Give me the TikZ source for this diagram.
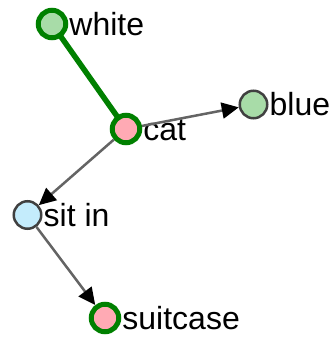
\documentclass[tikz,border=0pt]{standalone}
\usepackage{fontspec}
\setmainfont{Liberation Sans}
\usetikzlibrary{arrows.meta}

\definecolor{hlgreen}{RGB}{0,128,0}
\definecolor{leafgreen}{RGB}{168,220,168}
\definecolor{rosepink}{RGB}{255,170,180}
\definecolor{skyblue}{RGB}{196,236,252}
\definecolor{ringgray}{RGB}{64,64,64}
\definecolor{edgegray}{RGB}{100,100,100}

\tikzset{
  word/.style = {circle, draw, minimum size = 27.5pt, inner sep = 0pt},
  plain/.style = {word, draw = ringgray, line width = 2.5pt},
  hot/.style = {word, draw = hlgreen, line width = 5pt},
  every label/.style = {font = \fontsize{32}{38}\selectfont, inner sep = 0pt,
    text height = 22pt, text depth = 0pt, label distance = 1pt},
  rel/.style = {draw = edgegray, line width = 2.5pt,
    -{Triangle[length = 17pt, width = 16pt, color = black]}}
}

\begin{document}
\begin{tikzpicture}[x = 1pt, y = -1pt]
\useasboundingbox (0,0) rectangle (336,338);

    \path[-] (52,24) coordinate (c1) -- (126,129) coordinate (c2);
    \draw[hlgreen, line width = 5.5pt] (c1) -- (c2);

\draw (52,24) node[hot, fill = leafgreen, label = {[name = l1]right:white}](a1){}
    (126,129) node[hot, fill = rosepink, label = {[name = l2]right:cat}](a2){}
    (253.5,104.5) node[plain, fill = leafgreen, label = {[name = l3]right:blue}](a3){}
    (27.5,215) node[plain, fill = skyblue, label = {[name = l4]right:sit in}](a4){}
    (105,318) node[hot, fill = rosepink, label = {[name = l5]right:suitcase}](a5){};

    \path (a2) edge[rel] (a3);
    \path (a2) edge[rel] (a4);
    \path (a4) edge[rel] (a5);

\end{tikzpicture}
\end{document}
